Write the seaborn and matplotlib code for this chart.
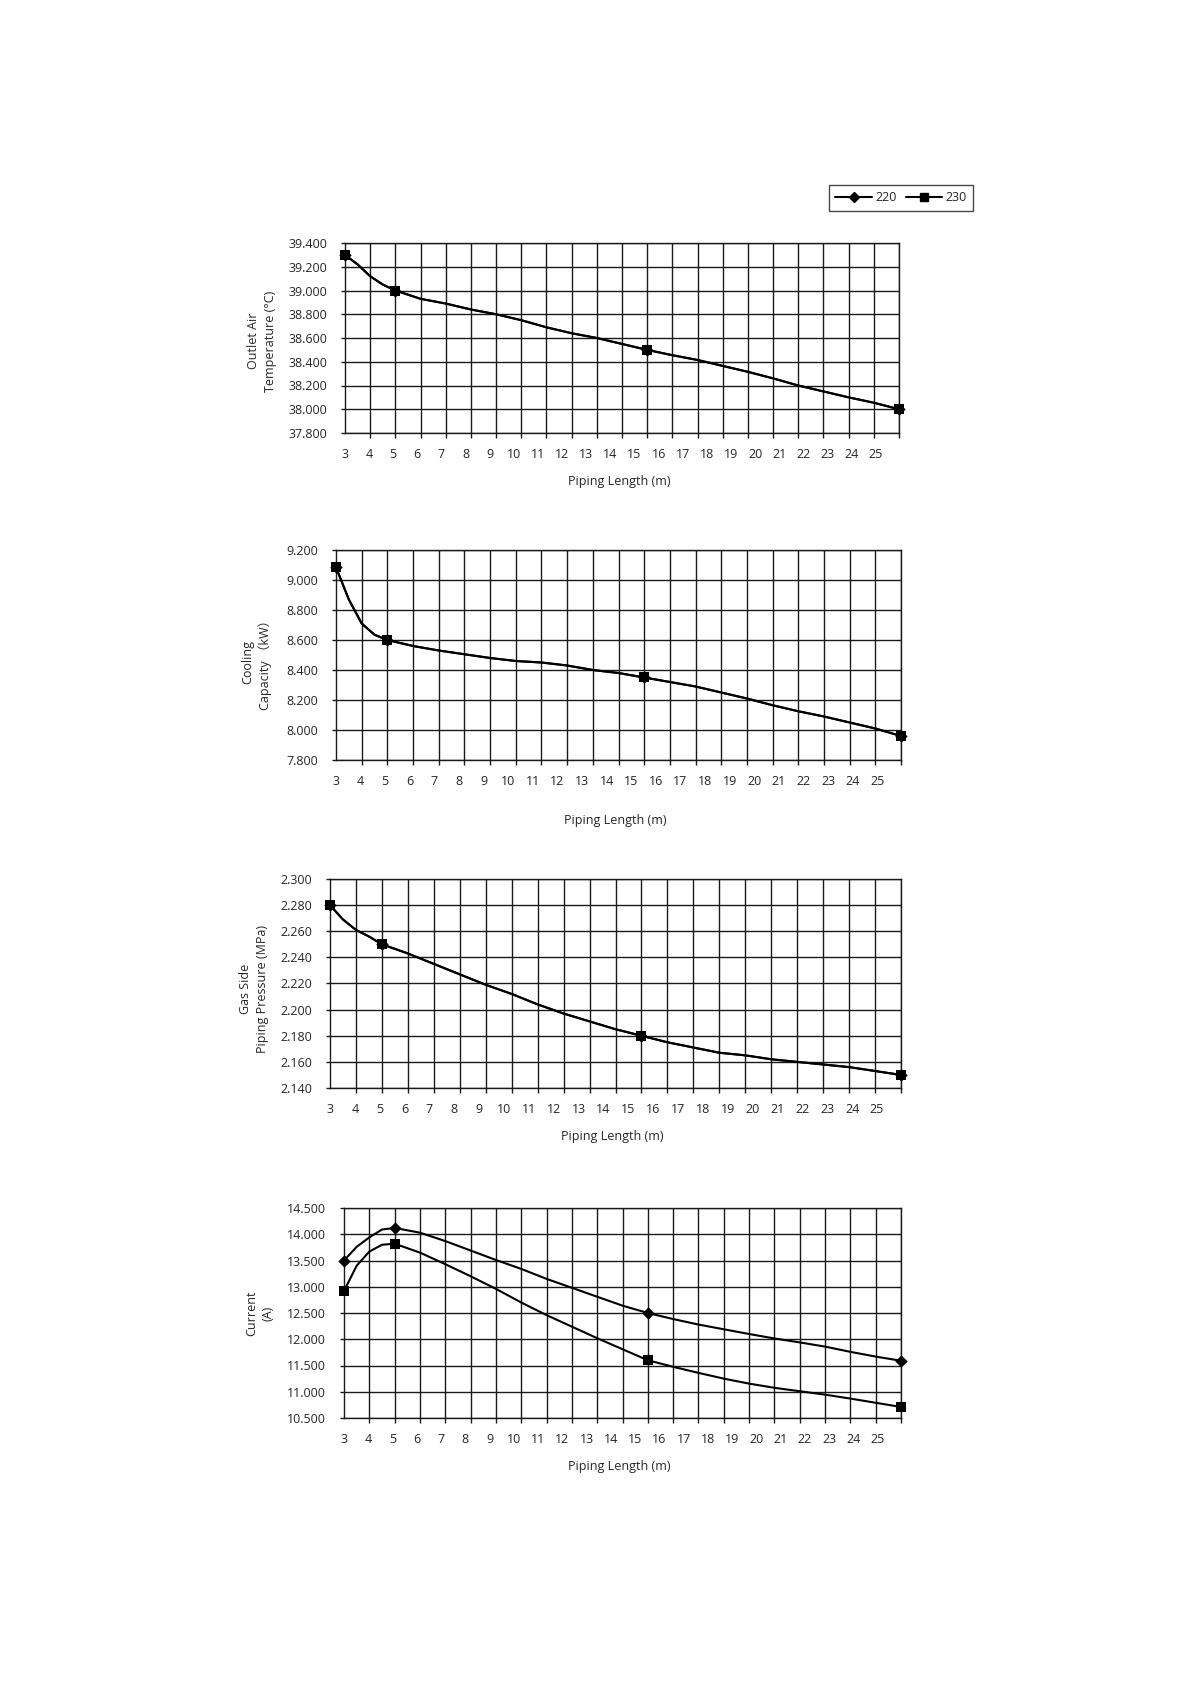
import numpy as np
import pandas as pd
import seaborn as sns
import matplotlib.pyplot as plt
from matplotlib.lines import Line2D
from matplotlib.ticker import FixedLocator, FormatStrFormatter

lengths = [3, 3.5, 4, 4.5, 5, 6, 7, 8, 9, 10, 11, 12, 13, 14, 15,
           16, 17, 18, 19, 20, 21, 22, 23, 24, 25]
marked_lengths = [3, 5, 15, 25]
length_labels = list(range(3, 26))

outlet_temp = [39.30, 39.22, 39.12, 39.05, 39.00, 38.93, 38.89, 38.84,
               38.80, 38.75, 38.69, 38.64, 38.60, 38.55, 38.50, 38.455,
               38.415, 38.365, 38.315, 38.26, 38.20, 38.15, 38.10, 38.055,
               38.00]
cooling_capacity = [9.085, 8.87, 8.71, 8.635, 8.60, 8.56, 8.53, 8.505,
                    8.48, 8.46, 8.45, 8.43, 8.40, 8.38, 8.35, 8.32, 8.29,
                    8.25, 8.21, 8.165, 8.125, 8.09, 8.05, 8.01, 7.96]
gas_pressure = [2.280, 2.269, 2.261, 2.256, 2.250, 2.243, 2.235, 2.227,
                2.219, 2.212, 2.204, 2.197, 2.191, 2.185, 2.180, 2.175,
                2.171, 2.167, 2.165, 2.162, 2.160, 2.158, 2.156, 2.153,
                2.150]
current_220 = [13.50, 13.76, 13.94, 14.09, 14.12, 14.03, 13.87, 13.69,
               13.51, 13.34, 13.15, 12.98, 12.81, 12.64, 12.50, 12.385,
               12.28, 12.19, 12.10, 12.015, 11.94, 11.86, 11.76, 11.67,
               11.59]
current_230 = [12.92, 13.40, 13.67, 13.80, 13.82, 13.65, 13.43, 13.20,
               12.96, 12.70, 12.46, 12.24, 12.02, 11.81, 11.60, 11.475,
               11.36, 11.25, 11.155, 11.075, 11.01, 10.945, 10.87, 10.79,
               10.71]

temp_ticks = [37.8, 38.0, 38.2, 38.4, 38.6, 38.8, 39.0, 39.2, 39.4]
capacity_ticks = [7.8, 8.0, 8.2, 8.4, 8.6, 8.8, 9.0, 9.2]
pressure_ticks = [2.14, 2.16, 2.18, 2.20, 2.22, 2.24, 2.26, 2.28, 2.30]
current_ticks = [10.5, 11.0, 11.5, 12.0, 12.5, 13.0, 13.5, 14.0, 14.5]

sns.set_style("ticks")
plt.rcParams['font.family'] = ['Open Sans', 'Noto Sans CJK SC', 'DejaVu Sans']
plt.rcParams['font.size'] = 9

fig = plt.figure(figsize=(11.9, 16.84), dpi=100)
W, H = 1190.0, 1684.0


def add_axes(left, right, top, bottom):
    return fig.add_axes([left / W, 1 - bottom / H,
                         (right - left) / W, (bottom - top) / H])


def draw_panel(ax, s220, s230, yticks, ylabel, ylab_x, ylab_y, xlab_y):
    for vals, mk, size in [(s220, 'D', 40), (s230, 's', 50)]:
        df = pd.DataFrame({'length': lengths, 'value': vals})
        sns.lineplot(data=df, x='length', y='value', color='black',
                     linewidth=1.5, ax=ax, zorder=3)
        pts = df[df['length'].isin(marked_lengths)]
        sns.scatterplot(data=pts, x='length', y='value', marker=mk, s=size,
                        color='black', linewidth=0, ax=ax, zorder=4,
                        clip_on=False)
    ax.set_xlim(3, 25)
    ax.set_ylim(yticks[0], yticks[-1])
    ax.set_yticks(yticks)
    ax.yaxis.set_major_formatter(FormatStrFormatter('%.3f'))
    # gridlines at every metre, the labels drift slightly as in the original
    ax.xaxis.set_minor_locator(FixedLocator(length_labels))
    ax.set_xticks([3 + (v - 3) * 0.958 for v in length_labels])
    ax.set_xticklabels([str(v) for v in length_labels])
    ax.grid(False)
    ax.xaxis.grid(True, which='minor', color='#1a1a1a', linewidth=1.0)
    ax.yaxis.grid(True, which='major', color='#1a1a1a', linewidth=1.0)
    ax.set_axisbelow(True)
    ax.tick_params(axis='x', which='major', length=0, pad=11, labelsize=9)
    ax.tick_params(axis='x', which='minor', length=3.5, width=1.0,
                   color='#1a1a1a')
    ax.tick_params(axis='y', length=3, width=1.0, pad=10, labelsize=9,
                   color='#1a1a1a')
    for sp in ax.spines.values():
        sp.set_color('#1a1a1a')
        sp.set_linewidth(1.0)
    ax.set_ylabel(ylabel, fontsize=9, ha='center', va='center',
                  linespacing=1.35)
    ax.yaxis.set_label_coords(ylab_x, ylab_y)
    ax.set_xlabel('Piping Length (m)', fontsize=9, va='center')
    ax.xaxis.set_label_coords(0.495, xlab_y)


ax1 = add_axes(345, 899, 243, 433)
draw_panel(ax1, outlet_temp, outlet_temp, temp_ticks,
           'Outlet Air\nTemperature (°C)', -0.150, 0.484, -0.253)

ax2 = add_axes(336, 901, 550, 760)
draw_panel(ax2, cooling_capacity, cooling_capacity, capacity_ticks,
           'Cooling\nCapacity （kW）', -0.140, 0.467, -0.286)

ax3 = add_axes(330, 901, 879, 1088)
draw_panel(ax3, gas_pressure, gas_pressure, pressure_ticks,
           'Gas Side\nPiping Pressure (MPa)', -0.133, 0.474, -0.234)

ax4 = add_axes(344, 901, 1208, 1418)
draw_panel(ax4, current_220, current_230, current_ticks,
           'Current\n(A)', -0.151, 0.5, -0.229)

handles = [Line2D([], [], color='black', lw=1.5, marker='D', ms=5),
           Line2D([], [], color='black', lw=1.5, marker='s', ms=5.5)]
leg = fig.legend(handles, ['220', '230'], ncol=2, loc='upper right',
                 bbox_to_anchor=(973 / W, 1 - 185 / H), frameon=True,
                 fancybox=False, edgecolor='#1a1a1a', handlelength=2.9,
                 handletextpad=0.3, columnspacing=0.7, borderpad=0.5,
                 fontsize=9, borderaxespad=0)
leg.get_frame().set_linewidth(1.0)

fig.savefig('out.png', dpi=100, facecolor='white')
